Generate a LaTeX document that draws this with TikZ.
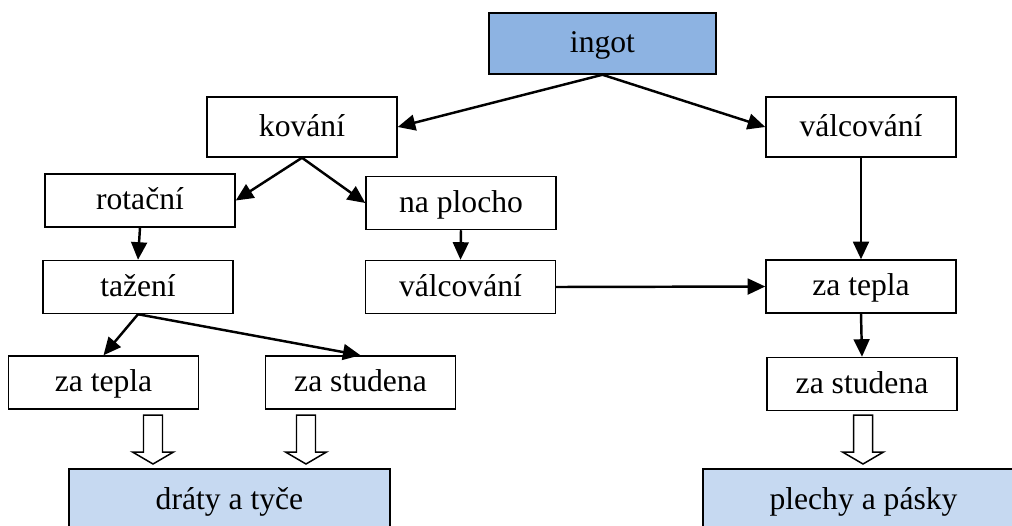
\documentclass[tikz,border=0pt]{standalone}
\usepackage{fontspec}
\setmainfont{Liberation Serif}
\usetikzlibrary{arrows.meta}
\definecolor{ingotblue}{HTML}{8DB3E2}
\definecolor{productblue}{HTML}{C6D9F1}
\tikzset{
  box/.style={draw, line width=0.85pt, minimum width=3.8cm, minimum height=1.06cm, inner sep=0pt, text height=13pt, text depth=2.5pt, font=\fontsize{18}{21}\selectfont},
  flow/.style={line width=1.4pt, -{Triangle[length=10pt,width=9pt]}},
  hollow/.style={draw, line width=0.85pt, fill=white}
}
\begin{document}
\begin{tikzpicture}[x=0.02cm,y=-0.02cm]
	\useasboundingbox (0,0) rectangle (1012,525);
	\clip (0,0) rectangle (1012,525);
	\node[box, fill=ingotblue, minimum width=4.54cm, minimum height=1.22cm] (ingot) at (602.5,43.5) {ingot};
	\node[box, minimum height=1.2cm] (kovani) at (302,127) {kování};
	\node[box, minimum height=1.2cm] (valcovani) at (861,127) {válcování};
	\node[box] (rotacni) at (140,200.5) {rotační};
	\node[box] (naplocho) at (461,203) {na plocho};
	\node[box] (tazeni) at (138,287) {tažení};
	\node[box] (valcovani2) at (460.5,287) {válcování};
	\node[box] (zateplaR) at (861,286.5) {za tepla};
	\node[box] (zateplaL) at (103.5,382.5) {za tepla};
	\node[box] (zastudenaL) at (360.5,382.5) {za studena};
	\node[box] (zastudenaR) at (862,384) {za studena};
	\node[box, fill=productblue, minimum width=6.42cm, minimum height=1.24cm] (draty) at (229.5,500) {dráty a tyče};
	\node[box, fill=productblue, minimum width=6.42cm, minimum height=1.24cm] (plechy) at (863.5,500) {plechy a pásky};
	\draw[flow] (ingot.south) -- (kovani.east);
	\draw[flow] (ingot.south) -- (valcovani.west);
	\draw[flow] (kovani.south) -- (rotacni.east);
	\draw[flow] (kovani.south) -- (naplocho.west);
	\draw[flow] (rotacni.south) -- (tazeni.north);
	\draw[flow] (naplocho.south) -- (valcovani2.north);
	\draw[flow] (valcovani.south) -- (zateplaR.north);
	\draw[flow] (valcovani2.east) -- (zateplaR.west);
	\draw[flow] (tazeni.south) -- (zateplaL.north);
	\draw[flow] (tazeni.south) -- (zastudenaL.north);
	\draw[flow] (zateplaR.south) -- (zastudenaR.north);
	\foreach \x in {153,306,863}
		\draw[hollow] (\x-9.5,415) -- (\x+9.5,415) -- (\x+9.5,452) -- (\x+20.5,452) -- (\x,464) -- (\x-20.5,452) -- (\x-9.5,452) -- cycle;
\end{tikzpicture}
\end{document}
